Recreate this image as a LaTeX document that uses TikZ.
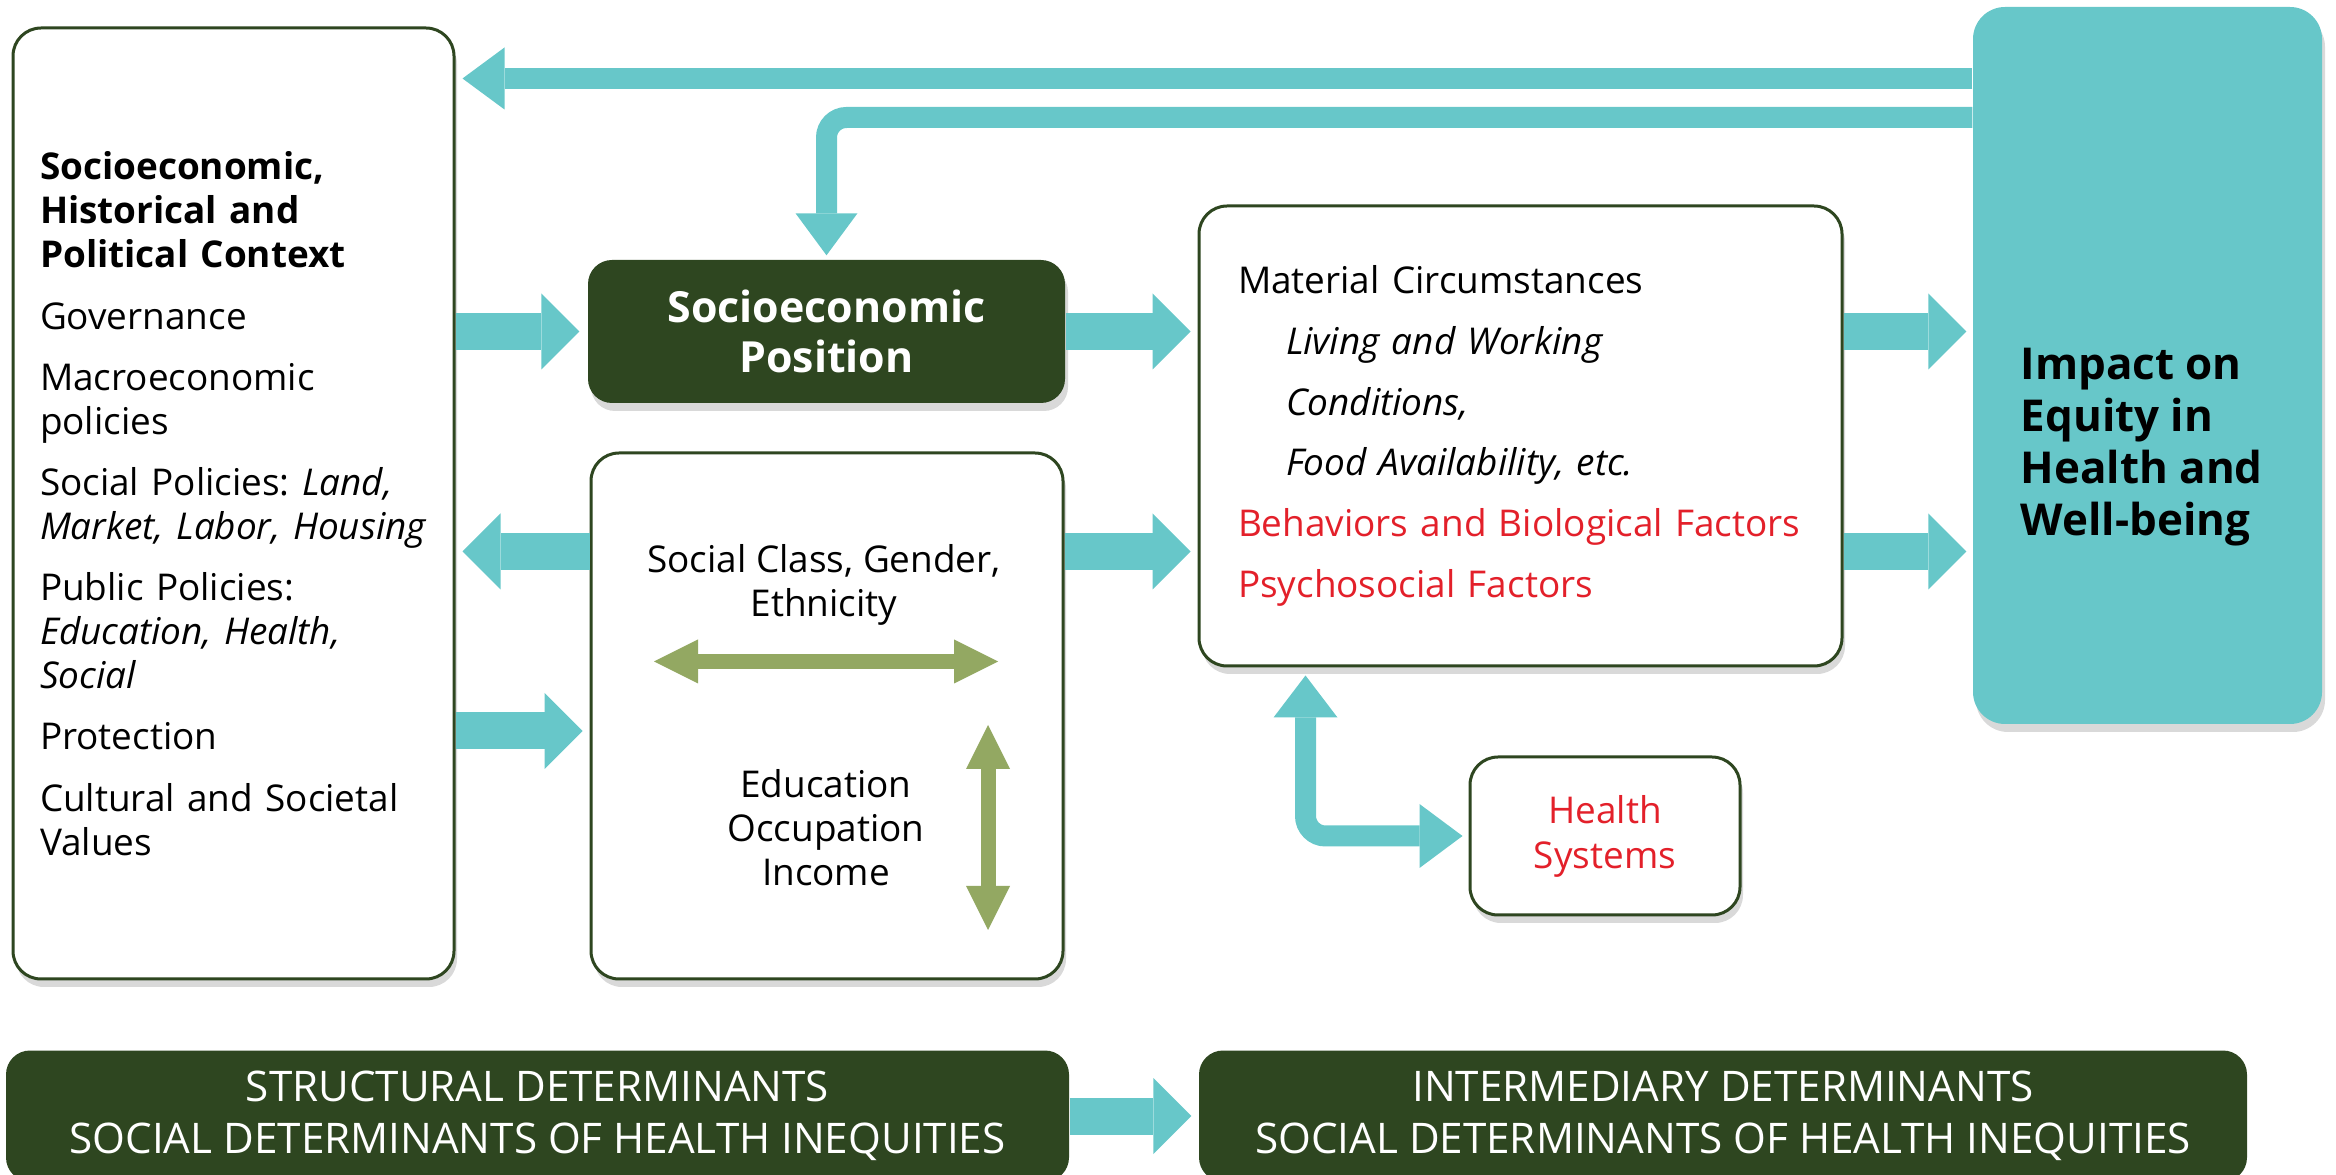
\documentclass[tikz,border=0pt]{standalone}
\usepackage{fontspec}
\setmainfont{Open Sans}
\frenchspacing
\usetikzlibrary{arrows.meta,shadows}
\definecolor{tealblue}{HTML}{67C7C9}
\definecolor{dkgreen}{HTML}{2E4620}
\definecolor{leaf}{HTML}{93A862}
\definecolor{hsred}{HTML}{E3202A}

\begin{document}
\begin{tikzpicture}[x=0.1mm, y=-0.1mm, font=\fontsize{10.5}{12.5}\selectfont,
  box/.style = {draw=dkgreen, line width=0.3mm, rounded corners=2.8mm, fill=white, drop shadow={shadow xshift=0.3mm, shadow yshift=-0.8mm, opacity=0.3}},
  dark/.style = {fill=dkgreen, rounded corners=2.4mm, text=white, align=center},
  fat/.style = {draw=tealblue, line width=3.7mm, -{Triangle[width=7.6mm, length=3.8mm, line width=0pt]}, shorten >=0.7mm},
  slim/.style = {draw=tealblue, line width=2.1mm, rounded corners=2mm},
  dbl/.style = {draw=leaf, line width=1.5mm, {Triangle[width=4.4mm, length=4.4mm, line width=0pt]}-{Triangle[width=4.4mm, length=4.4mm, line width=0pt]}}]
\path[use as bounding box, clip] (0,0) rectangle (2336,1175);

\node[box, minimum width=44.1mm, minimum height=95.1mm, text width=38.7mm, inner xsep=2.7mm, align=left] (1) at (233.5,503.5)
  {\textbf{Socioeconomic,}\\ \textbf{Historical and}\\ \textbf{Political Context}\\[5.2pt]
   Governance\\[4.9pt]
   Macroeconomic\\ policies\\[4.9pt]
   Social Policies: \textit{Land,}\\ \textit{Market, Labor, Housing}\\[4.9pt]
   Public Policies:\\ \textit{Education, Health,}\\ \textit{Social}\\[4.9pt]
   Protection\\[4.9pt]
   Cultural and Societal\\ Values};
\node[dark, minimum width=47.7mm, minimum height=14.3mm, font=\fontsize{12.2}{14.2}\selectfont\bfseries, drop shadow={shadow xshift=0.3mm, shadow yshift=-0.8mm, opacity=0.3}] (2) at (826.5,331.5) {Socioeconomic\\Position};
\node[box, minimum width=47.2mm, minimum height=52.6mm] (3) at (827,716) {};
\node[box, minimum width=64.3mm, minimum height=46mm, text width=56.5mm, inner xsep=3.9mm, align=left, font=\fontsize{10.5}{17.3}\selectfont] (4) at (1520.5,436)
  {Material Circumstances\\
   \hspace*{4.8mm}\textit{Living and Working}\\
   \hspace*{4.8mm}\textit{Conditions,}\\
   \hspace*{4.8mm}\textit{Food Availability, etc.}\\
   \textcolor{hsred}{Behaviors and Biological Factors}\\
   \textcolor{hsred}{Psychosocial Factors}};
\node[fill=tealblue, rounded corners=3.2mm, minimum width=34.9mm, minimum height=71.7mm, drop shadow={shadow xshift=0.3mm, shadow yshift=-0.8mm, opacity=0.3}] (5) at (2147.5,365.5) {};
\node[box, minimum width=27mm, minimum height=15.8mm, text=hsred, align=center, font=\fontsize{10.5}{12.8}\selectfont] (6) at (1605,836) {Health\\Systems};
\node[dark, minimum width=106.3mm, minimum height=13.1mm, font=\fontsize{12}{14.8}\selectfont] (7) at (537.5,1116) {STRUCTURAL DETERMINANTS\\SOCIAL DETERMINANTS OF HEALTH INEQUITIES};
\node[dark, minimum width=104.8mm, minimum height=13.1mm, font=\fontsize{12}{14.8}\selectfont] (8) at (1723,1116) {INTERMEDIARY DETERMINANTS\\SOCIAL DETERMINANTS OF HEALTH INEQUITIES};

\node[font=\fontsize{12.5}{14.8}\selectfont\bfseries, align=left, anchor=west, inner sep=0] (9) at (2020,447) {Impact on\\Equity in\\Health and\\Well-being};
\node[align=center] (10) at (824,585) {Social Class, Gender,\\Ethnicity};
\node[align=center] (11) at (826,828) {Education\\Occupation\\Income};

\coordinate (r0) at (0,78.5);
\coordinate (r1) at (0,117.5);
\coordinate (r2) at (0,551.5);
\coordinate (r3) at (0,731);
\coordinate (hx) at (1305.5,0);
\coordinate (g1) at (654,661.5);
\coordinate (g2) at (998,661.5);
\coordinate (g3) at (988,725);
\coordinate (g4) at (988,930);

\draw[fat, shorten >=0.8mm] (1.east |- 2.west) -- (2.west);
\draw[fat] (2.east) -- (4.west |- 2.east);
\draw[fat] (3.west |- r2) -- (1.east |- r2);
\draw[fat] (3.east |- r2) -- (4.west |- r2);
\draw[fat] (1.east |- r3) -- (3.west |- r3);
\draw[fat, shorten >=0.6mm] (4.east |- 2.east) -- (5.west |- 2.east);
\draw[fat, shorten >=0.6mm] (4.east |- r2) -- (5.west |- r2);
\draw[fat] (7.east) -- (8.west);

\draw[slim, -{Triangle[width=6.2mm, length=4.2mm, line width=0pt]}, shorten >=0.7mm] (5.west |- r0) -- (1.east |- r0);
\draw[slim, -{Triangle[width=6.2mm, length=4.2mm, line width=0pt]}, shorten >=0.4mm] (5.west |- r1) -| (2.north);
\draw[slim, {Triangle[width=6.4mm, length=4.2mm, line width=0pt]}-{Triangle[width=6.4mm, length=4.3mm, line width=0pt]}, shorten <=0.8mm, shorten >=0.6mm] (hx |- 4.south) |- (6.west);

\draw[dbl] (g1) -- (g2);
\draw[dbl] (g3) -- (g4);

\end{tikzpicture}
\end{document}
